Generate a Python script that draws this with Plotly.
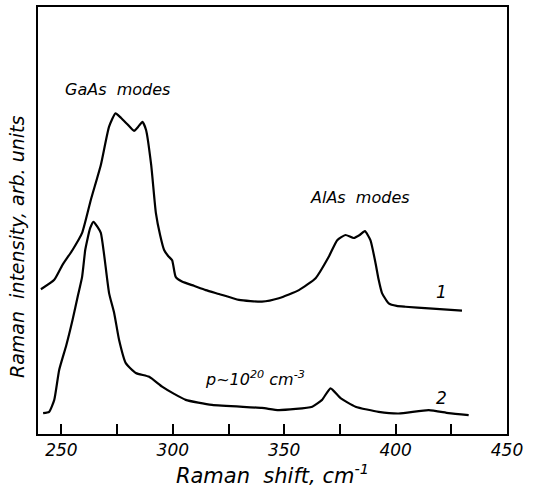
import plotly.graph_objects as go

# Curve 1 (upper spectrum)
shift_1 = [240.8, 246.8, 250.5, 255.0, 259.3, 263.2, 267.7, 271.4, 274.3, 276.8,
           279.5, 282.6, 284.4, 286.4, 288.0, 290.3, 292.4, 294.3, 296.1, 297.9,
           299.7, 301.3, 304.1, 309.5, 314.8, 320.7, 329.7, 340.0, 347.6, 356.6,
           364.1, 370.0, 373.8, 377.5, 381.2, 383.9, 386.2, 388.7, 391.0, 392.4,
           393.9, 396.9, 400.5, 404.4, 414.9, 429.8]
intensity_1 = [33.9, 36.1, 39.6, 43.1, 47.1, 54.8, 63.0, 72.0, 75.1, 74.0,
               72.6, 71.0, 71.9, 73.1, 71.2, 63.0, 51.8, 46.6, 43.1, 41.7,
               40.7, 36.8, 35.7, 34.7, 33.7, 32.8, 31.4, 31.0, 31.8, 33.7,
               36.5, 41.5, 45.4, 46.6, 45.9, 46.6, 47.5, 45.4, 40.0, 36.1,
               33.0, 30.6, 30.0, 29.8, 29.4, 28.9]

# Curve 2 (lower spectrum, p ~ 1e20 cm^-3)
shift_2 = [241.8, 244.5, 246.8, 249.0, 252.2, 255.0, 257.5, 259.3, 260.7, 261.6,
           262.9, 264.4, 266.2, 267.7, 269.2, 271.4, 273.7, 275.9, 278.9, 283.4,
           289.4, 295.2, 300.6, 305.8, 317.6, 340.0, 347.6, 362.6, 367.0, 370.8,
           375.3, 382.0, 392.4, 401.4, 414.9, 423.8, 432.8]
intensity_2 = [4.9, 5.2, 8.0, 15.0, 20.8, 26.7, 32.6, 36.8, 43.1, 45.4,
               48.2, 49.7, 48.5, 47.1, 41.9, 33.0, 28.3, 22.0, 16.6, 14.3,
               13.4, 11.1, 9.4, 8.0, 6.8, 6.1, 5.6, 6.4, 8.0, 10.7,
               8.4, 6.4, 5.2, 4.8, 5.6, 4.9, 4.4]

x_ticks = [250, 300, 350, 400, 450]

FONT = "DejaVu Sans"

fig = go.Figure()
for xs, ys in ((shift_1, intensity_1), (shift_2, intensity_2)):
    fig.add_trace(go.Scatter(x=xs, y=ys, mode="lines",
                             line=dict(color="black", width=2.2,
                                       shape="spline", smoothing=0.5),
                             showlegend=False))

notes = [
    (275.0, 80.6, "<i>GaAs  modes</i>", 16),
    (383.9, 55.5, "<i>AlAs  modes</i>", 16),
    (420.6, 33.3, "<i>1</i>", 17),
    (420.6, 8.4, "<i>2</i>", 17),
    (336.9, 13.1, "<i>p~10<sup>20</sup> cm<sup>-3</sup></i>", 16),
]
for x, y, t, s in notes:
    fig.add_annotation(x=x, y=y, xref="x", yref="y", text=t, showarrow=False,
                       font=dict(family=FONT, size=s, color="black"))

# y-axis title placed as rotated text beside the axis
fig.add_annotation(x=-0.045, y=0.44, xref="paper", yref="paper",
                   text="<i>Raman  intensity, arb. units</i>", textangle=-90,
                   showarrow=False, xanchor="center", yanchor="middle",
                   font=dict(family=FONT, size=19, color="black"))

fig.update_xaxes(range=[239.5, 450], tickvals=x_ticks,
                 ticktext=[f"<i>{v}</i>" for v in x_ticks],
                 ticks="inside", ticklen=10, tickwidth=1.5, tickcolor="black",
                 minor=dict(dtick=25, tick0=250, ticks="inside", ticklen=10,
                            tickwidth=1.5, tickcolor="black"),
                 showline=True, linecolor="black", linewidth=2, mirror=True,
                 showgrid=False, zeroline=False,
                 tickfont=dict(family=FONT, size=17, color="black"),
                 title=dict(text="<i>Raman  shift, cm<sup>-1</sup></i>",
                            font=dict(family=FONT, size=21, color="black"),
                            standoff=2))
fig.update_yaxes(range=[0, 100], showticklabels=False, ticks="",
                 showline=True, linecolor="black", linewidth=2, mirror=True,
                 showgrid=False, zeroline=False)

fig.update_layout(width=536, height=498,
                  margin=dict(l=38, r=29, t=7, b=64, autoexpand=False),
                  plot_bgcolor="white", paper_bgcolor="white")

fig.write_html("out.html")
